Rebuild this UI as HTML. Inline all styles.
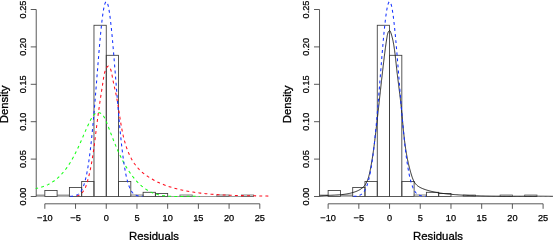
<!DOCTYPE html><html><head><meta charset="utf-8"><title>Residuals density</title><style>html,body{margin:0;padding:0;background:#fff}svg{display:block;font-family:"Liberation Sans",sans-serif}</style></head><body>
<svg width="553" height="240" viewBox="0 0 553 240">
<rect width="553" height="240" fill="#fff"/>
<path d="M36.23 196.5 H44.83 M57.11 196.5 H69.4" stroke="#9a9a9a" stroke-width="2.2" fill="none" transform="translate(0 -0.9)"/><path d="M167.67 196.5 H253.66" stroke="#6e6e6e" stroke-width="0.7" fill="none"/><g fill="none" stroke="#3c3c3c" stroke-width="0.85"><rect x="44.83" y="190.49" width="12.28" height="6.01"/><rect x="69.4" y="187.49" width="12.28" height="9.01"/><rect x="81.68" y="181.48" width="12.28" height="15.02"/><rect x="93.97" y="25.27" width="12.28" height="171.23"/><rect x="106.25" y="55.31" width="12.28" height="141.19"/><rect x="118.53" y="181.48" width="12.28" height="15.02"/><rect x="130.82" y="195" width="12.28" height="1.5" stroke="#6a6a6a"/><rect x="143.1" y="192.3" width="12.28" height="4.2"/><rect x="155.39" y="193.5" width="12.28" height="3"/><rect x="179.95" y="195" width="12.28" height="1.5" stroke="#6a6a6a"/><rect x="216.81" y="195" width="12.28" height="1.5" stroke="#6a6a6a"/><rect x="241.37" y="195" width="12.28" height="1.5" stroke="#6a6a6a"/></g><path d="M36.23 9.5 V196.5 M30.73 196.5 H36.23 M30.73 159.1 H36.23 M30.73 121.7 H36.23 M30.73 84.3 H36.23 M30.73 46.9 H36.23 M30.73 9.5 H36.23 M44.83 203.8 H259.8 M44.83 203.8 V208.8 M75.54 203.8 V208.8 M106.25 203.8 V208.8 M136.96 203.8 V208.8 M167.67 203.8 V208.8 M198.38 203.8 V208.8 M229.09 203.8 V208.8 M259.8 203.8 V208.8" stroke="#3c3c3c" stroke-width="0.85" fill="none"/><g font-size="9.2" fill="#000" stroke="#000" stroke-width="0.25"><text x="44.83" y="221.0" text-anchor="middle">−10</text><text x="75.54" y="221.0" text-anchor="middle">−5</text><text x="106.25" y="221.0" text-anchor="middle">0</text><text x="136.96" y="221.0" text-anchor="middle">5</text><text x="167.67" y="221.0" text-anchor="middle">10</text><text x="198.38" y="221.0" text-anchor="middle">15</text><text x="229.09" y="221.0" text-anchor="middle">20</text><text x="259.8" y="221.0" text-anchor="middle">25</text><text transform="translate(26.03 196.5) rotate(-90)" text-anchor="middle">0.00</text><text transform="translate(26.03 159.1) rotate(-90)" text-anchor="middle">0.05</text><text transform="translate(26.03 121.7) rotate(-90)" text-anchor="middle">0.10</text><text transform="translate(26.03 84.3) rotate(-90)" text-anchor="middle">0.15</text><text transform="translate(26.03 46.9) rotate(-90)" text-anchor="middle">0.20</text><text transform="translate(26.03 9.5) rotate(-90)" text-anchor="middle">0.25</text></g><g font-size="11.35" fill="#000" stroke="#000" stroke-width="0.3"><text x="154.03" y="240.3" text-anchor="middle">Residuals</text><text transform="translate(7.73 104.4) rotate(-90)" text-anchor="middle">Density</text></g>
<path d="M319.53 196.5 H328.13 M340.41 196.5 H352.7" stroke="#9a9a9a" stroke-width="2.2" fill="none" transform="translate(0 -0.9)"/><path d="M450.97 196.5 H536.96" stroke="#6e6e6e" stroke-width="0.7" fill="none"/><g fill="none" stroke="#3c3c3c" stroke-width="0.85"><rect x="328.13" y="190.49" width="12.28" height="6.01"/><rect x="352.7" y="187.49" width="12.28" height="9.01"/><rect x="364.98" y="181.48" width="12.28" height="15.02"/><rect x="377.27" y="25.27" width="12.28" height="171.23"/><rect x="389.55" y="55.31" width="12.28" height="141.19"/><rect x="401.83" y="181.48" width="12.28" height="15.02"/><rect x="414.12" y="195" width="12.28" height="1.5" stroke="#6a6a6a"/><rect x="426.4" y="192.3" width="12.28" height="4.2"/><rect x="438.69" y="193.5" width="12.28" height="3"/><rect x="463.25" y="195" width="12.28" height="1.5" stroke="#6a6a6a"/><rect x="500.11" y="195" width="12.28" height="1.5" stroke="#6a6a6a"/><rect x="524.67" y="195" width="12.28" height="1.5" stroke="#6a6a6a"/></g><path d="M319.53 9.5 V196.5 M314.03 196.5 H319.53 M314.03 159.1 H319.53 M314.03 121.7 H319.53 M314.03 84.3 H319.53 M314.03 46.9 H319.53 M314.03 9.5 H319.53 M328.13 203.8 H543.1 M328.13 203.8 V208.8 M358.84 203.8 V208.8 M389.55 203.8 V208.8 M420.26 203.8 V208.8 M450.97 203.8 V208.8 M481.68 203.8 V208.8 M512.39 203.8 V208.8 M543.1 203.8 V208.8" stroke="#3c3c3c" stroke-width="0.85" fill="none"/><g font-size="9.2" fill="#000" stroke="#000" stroke-width="0.25"><text x="328.13" y="221.0" text-anchor="middle">−10</text><text x="358.84" y="221.0" text-anchor="middle">−5</text><text x="389.55" y="221.0" text-anchor="middle">0</text><text x="420.26" y="221.0" text-anchor="middle">5</text><text x="450.97" y="221.0" text-anchor="middle">10</text><text x="481.68" y="221.0" text-anchor="middle">15</text><text x="512.39" y="221.0" text-anchor="middle">20</text><text x="543.1" y="221.0" text-anchor="middle">25</text><text transform="translate(309.33 196.5) rotate(-90)" text-anchor="middle">0.00</text><text transform="translate(309.33 159.1) rotate(-90)" text-anchor="middle">0.05</text><text transform="translate(309.33 121.7) rotate(-90)" text-anchor="middle">0.10</text><text transform="translate(309.33 84.3) rotate(-90)" text-anchor="middle">0.15</text><text transform="translate(309.33 46.9) rotate(-90)" text-anchor="middle">0.20</text><text transform="translate(309.33 9.5) rotate(-90)" text-anchor="middle">0.25</text></g><g font-size="11.35" fill="#000" stroke="#000" stroke-width="0.3"><text x="438.03" y="240.3" text-anchor="middle">Residuals</text><text transform="translate(291.43 104.4) rotate(-90)" text-anchor="middle">Density</text></g>
<path d="M319.57 196.09 L320.39 195.99 L321.22 195.9 L322.05 195.82 L322.88 195.75 L323.71 195.68 L324.54 195.62 L325.38 195.57 L326.21 195.51 L327.05 195.47 L327.89 195.42 L328.72 195.38 L329.56 195.34 L330.4 195.3 L331.24 195.26 L332.08 195.23 L332.92 195.19 L333.76 195.15 L334.6 195.11 L335.44 195.06 L336.28 195.02 L337.12 194.97 L337.96 194.91 L338.8 194.86 L339.64 194.79 L340.48 194.72 L341.32 194.65 L342.15 194.56 L342.99 194.47 L343.82 194.37 L344.66 194.26 L345.49 194.14 L346.32 194.01 L347.15 193.87 L347.98 193.72 L348.8 193.56 L349.63 193.38 L350.45 193.19 L351.27 192.99 L352.09 192.77 L352.91 192.54 L353.72 192.29 L354.53 192.02 L355.33 191.74 L356.12 191.44 L356.9 191.11 L357.67 190.77 L358.42 190.41 L359.16 190.02 L359.88 189.61 L360.57 189.18 L361.25 188.73 L361.9 188.24 L362.52 187.74 L363.11 187.2 L363.67 186.64 L364.2 186.04 L364.7 185.42 L365.18 184.78 L365.62 184.11 L366.03 183.42 L366.42 182.7 L366.79 181.97 L367.13 181.22 L367.45 180.45 L367.75 179.67 L368.04 178.87 L368.3 178.06 L368.55 177.24 L368.79 176.41 L369.01 175.57 L369.22 174.72 L369.42 173.87 L369.62 173.02 L369.8 172.16 L369.98 171.31 L370.15 170.45 L370.32 169.6 L370.49 168.75 L370.65 167.91 L370.81 167.06 L370.97 166.22 L371.12 165.38 L371.27 164.54 L371.42 163.7 L371.56 162.86 L371.71 162.03 L371.85 161.2 L371.98 160.37 L372.12 159.54 L372.25 158.71 L372.38 157.88 L372.51 157.06 L372.63 156.24 L372.76 155.41 L372.88 154.59 L373 153.77 L373.12 152.95 L373.24 152.13 L373.35 151.31 L373.46 150.49 L373.58 149.67 L373.69 148.85 L373.8 148.03 L373.9 147.22 L374.01 146.4 L374.12 145.58 L374.22 144.76 L374.33 143.94 L374.43 143.12 L374.53 142.3 L374.64 141.48 L374.74 140.66 L374.84 139.84 L374.94 139.02 L375.04 138.2 L375.14 137.37 L375.24 136.55 L375.34 135.72 L375.44 134.9 L375.54 134.07 L375.64 133.25 L375.74 132.42 L375.84 131.59 L375.93 130.76 L376.03 129.93 L376.13 129.1 L376.22 128.27 L376.32 127.44 L376.42 126.61 L376.51 125.78 L376.61 124.95 L376.71 124.11 L376.8 123.28 L376.9 122.45 L376.99 121.61 L377.09 120.78 L377.18 119.94 L377.28 119.11 L377.37 118.27 L377.46 117.44 L377.56 116.6 L377.65 115.76 L377.75 114.93 L377.84 114.09 L377.93 113.25 L378.03 112.41 L378.12 111.58 L378.21 110.74 L378.3 109.9 L378.4 109.06 L378.49 108.22 L378.58 107.38 L378.67 106.55 L378.77 105.71 L378.86 104.87 L378.95 104.03 L379.04 103.19 L379.14 102.35 L379.23 101.51 L379.32 100.67 L379.41 99.83 L379.5 98.99 L379.6 98.15 L379.69 97.31 L379.78 96.48 L379.87 95.64 L379.96 94.8 L380.05 93.96 L380.15 93.12 L380.24 92.28 L380.33 91.44 L380.42 90.61 L380.51 89.77 L380.61 88.93 L380.7 88.09 L380.79 87.26 L380.88 86.42 L380.97 85.58 L381.07 84.75 L381.16 83.91 L381.25 83.08 L381.34 82.24 L381.44 81.41 L381.53 80.57 L381.62 79.74 L381.72 78.9 L381.81 78.07 L381.9 77.24 L382 76.41 L382.09 75.58 L382.18 74.74 L382.28 73.91 L382.37 73.08 L382.47 72.25 L382.56 71.42 L382.66 70.6 L382.75 69.77 L382.85 68.94 L382.94 68.12 L383.04 67.29 L383.13 66.46 L383.23 65.64 L383.33 64.82 L383.42 63.99 L383.52 63.17 L383.62 62.35 L383.71 61.53 L383.81 60.71 L383.91 59.89 L384.01 59.07 L384.11 58.25 L384.21 57.44 L384.3 56.62 L384.4 55.81 L384.5 54.99 L384.6 54.18 L384.71 53.36 L384.81 52.55 L384.91 51.73 L385.01 50.92 L385.12 50.1 L385.23 49.28 L385.34 48.45 L385.45 47.63 L385.56 46.8 L385.67 45.97 L385.79 45.13 L385.91 44.29 L386.03 43.44 L386.16 42.59 L386.29 41.73 L386.42 40.86 L386.55 39.99 L386.69 39.11 L386.83 38.23 L386.98 37.33 L387.13 36.43 L387.28 35.53 L387.46 34.64 L387.66 33.78 L387.9 32.97 L388.19 32.22 L388.54 31.57 L388.97 31.02 L389.46 30.63 L389.95 30.71 L390.34 31.37 L390.66 32.26 L390.96 33.15 L391.25 34.02 L391.51 34.88 L391.76 35.73 L391.99 36.56 L392.21 37.39 L392.42 38.21 L392.61 39.03 L392.79 39.84 L392.96 40.64 L393.13 41.44 L393.28 42.24 L393.43 43.04 L393.57 43.84 L393.71 44.65 L393.84 45.45 L393.97 46.26 L394.1 47.07 L394.22 47.88 L394.34 48.7 L394.46 49.52 L394.57 50.34 L394.68 51.16 L394.79 51.98 L394.89 52.81 L395 53.63 L395.1 54.46 L395.2 55.29 L395.29 56.12 L395.39 56.95 L395.48 57.78 L395.58 58.62 L395.67 59.45 L395.76 60.29 L395.85 61.13 L395.94 61.96 L396.03 62.8 L396.12 63.64 L396.21 64.48 L396.3 65.31 L396.39 66.15 L396.48 66.99 L396.57 67.83 L396.66 68.67 L396.76 69.51 L396.85 70.34 L396.95 71.18 L397.04 72.02 L397.14 72.86 L397.24 73.69 L397.34 74.53 L397.44 75.37 L397.54 76.2 L397.64 77.04 L397.74 77.87 L397.85 78.71 L397.95 79.54 L398.05 80.38 L398.16 81.21 L398.26 82.05 L398.37 82.88 L398.47 83.71 L398.58 84.55 L398.68 85.38 L398.79 86.22 L398.89 87.05 L399 87.88 L399.1 88.72 L399.21 89.55 L399.31 90.38 L399.42 91.21 L399.52 92.05 L399.62 92.88 L399.72 93.71 L399.83 94.55 L399.93 95.38 L400.03 96.21 L400.13 97.04 L400.23 97.88 L400.32 98.71 L400.42 99.54 L400.52 100.37 L400.61 101.21 L400.7 102.04 L400.8 102.87 L400.89 103.7 L400.98 104.54 L401.07 105.37 L401.15 106.2 L401.24 107.04 L401.32 107.87 L401.41 108.7 L401.49 109.54 L401.57 110.37 L401.65 111.2 L401.73 112.04 L401.81 112.87 L401.89 113.7 L401.96 114.54 L402.04 115.37 L402.12 116.2 L402.19 117.04 L402.27 117.87 L402.35 118.7 L402.42 119.53 L402.5 120.37 L402.57 121.2 L402.65 122.03 L402.72 122.87 L402.8 123.7 L402.88 124.53 L402.95 125.37 L403.03 126.2 L403.11 127.03 L403.19 127.86 L403.27 128.7 L403.35 129.53 L403.43 130.36 L403.51 131.19 L403.6 132.03 L403.68 132.86 L403.77 133.69 L403.86 134.52 L403.94 135.35 L404.03 136.18 L404.13 137.02 L404.22 137.85 L404.32 138.68 L404.41 139.51 L404.51 140.34 L404.61 141.17 L404.72 142 L404.82 142.83 L404.93 143.66 L405.04 144.49 L405.15 145.32 L405.27 146.15 L405.38 146.98 L405.5 147.81 L405.63 148.64 L405.75 149.46 L405.88 150.29 L406.01 151.12 L406.15 151.95 L406.28 152.78 L406.42 153.6 L406.57 154.43 L406.72 155.26 L406.87 156.08 L407.02 156.91 L407.18 157.73 L407.34 158.56 L407.51 159.38 L407.67 160.21 L407.85 161.03 L408.03 161.86 L408.21 162.68 L408.39 163.5 L408.58 164.33 L408.78 165.15 L408.97 165.97 L409.18 166.79 L409.38 167.62 L409.6 168.44 L409.81 169.26 L410.03 170.08 L410.26 170.9 L410.49 171.72 L410.73 172.54 L410.97 173.36 L411.22 174.18 L411.47 174.99 L411.73 175.81 L411.99 176.63 L412.27 177.43 L412.56 178.23 L412.87 179.02 L413.19 179.79 L413.54 180.55 L413.91 181.28 L414.31 182 L414.74 182.69 L415.2 183.35 L415.69 183.98 L416.22 184.57 L416.79 185.14 L417.4 185.66 L418.04 186.15 L418.72 186.62 L419.42 187.05 L420.15 187.45 L420.9 187.84 L421.67 188.19 L422.45 188.53 L423.24 188.85 L424.05 189.16 L424.86 189.45 L425.67 189.72 L426.48 189.99 L427.29 190.24 L428.11 190.49 L428.92 190.72 L429.74 190.95 L430.56 191.16 L431.38 191.37 L432.2 191.57 L433.02 191.75 L433.84 191.93 L434.67 192.1 L435.49 192.27 L436.31 192.42 L437.14 192.57 L437.97 192.72 L438.79 192.85 L439.62 192.98 L440.45 193.1 L441.28 193.22 L442.11 193.33 L442.94 193.44 L443.77 193.54 L444.6 193.64 L445.43 193.74 L446.26 193.83 L447.1 193.91 L447.93 194 L448.76 194.08 L449.59 194.16 L450.43 194.23 L451.26 194.31 L452.09 194.38 L452.93 194.45 L453.76 194.52 L454.6 194.59 L455.43 194.65 L456.27 194.71 L457.1 194.78 L457.94 194.84 L458.77 194.9 L459.61 194.95 L460.44 195.01 L461.28 195.06 L462.11 195.11 L462.95 195.16 L463.78 195.21 L464.62 195.26 L465.46 195.31 L466.29 195.35 L467.13 195.4 L467.97 195.44 L468.8 195.48 L469.64 195.52 L470.48 195.56 L471.31 195.59 L472.15 195.63 L472.99 195.66 L473.82 195.7 L474.66 195.73 L475.5 195.76 L476.34 195.79 L477.18 195.81 L478.01 195.84 L478.85 195.87 L479.69 195.89 L480.53 195.92 L481.37 195.94 L482.2 195.96 L483.04 195.98 L483.88 196 L484.72 196.02 L485.56 196.04 L486.4 196.05 L487.24 196.07 L488.08 196.08 L488.91 196.1 L489.75 196.11 L490.59 196.12 L491.43 196.14 L492.27 196.15 L493.11 196.16 L493.95 196.17 L494.79 196.18 L495.63 196.18 L496.47 196.19 L497.31 196.2 L498.15 196.2 L498.99 196.21 L499.83 196.21 L500.66 196.22 L501.5 196.22 L502.34 196.23 L503.18 196.23 L504.02 196.23 L504.86 196.23 L505.7 196.24 L506.54 196.24 L507.38 196.24 L508.22 196.24 L509.06 196.24 L509.9 196.24 L510.74 196.24 L511.58 196.24 L512.42 196.24 L513.26 196.24 L514.1 196.23 L514.94 196.23 L515.78 196.23 L516.62 196.23 L517.46 196.23 L518.3 196.23 L519.14 196.22 L519.98 196.22 L520.81 196.22 L521.65 196.22 L522.49 196.21 L523.33 196.21 L524.17 196.21 L525.01 196.21 L525.85 196.21 L526.69 196.21 L527.53 196.2 L528.37 196.2 L529.21 196.2 L530.05 196.2 L530.88 196.2 L531.72 196.2 L532.56 196.2 L533.4 196.2 L534.24 196.2 L535.08 196.2 L535.91 196.2 L536.75 196.2 L537.59 196.21 L538.43 196.21 L539.27 196.21 L540.11 196.22 L540.94 196.22 L541.78 196.22 L542.62 196.23 L543.46 196.23 L544.29 196.24 L545.13 196.25 L545.97 196.26 L546.8 196.26 L547.64 196.27 L548.48 196.28 L549.31 196.29 L550.15 196.3 L550.99 196.31 L551.82 196.33 L552.66 196.34 L553.5 196.36" stroke="#141414" stroke-width="0.92" fill="none"/>
<g fill="none" stroke-width="1.05" stroke-dasharray="2.9 3.2">
<path d="M35.68 188.46 L36.58 188.32 L37.46 188.16 L38.34 187.98 L39.2 187.78 L40.05 187.57 L40.89 187.35 L41.72 187.1 L42.54 186.84 L43.35 186.57 L44.15 186.28 L44.94 185.97 L45.72 185.65 L46.49 185.31 L47.24 184.96 L47.99 184.6 L48.73 184.22 L49.46 183.83 L50.18 183.42 L50.89 183.01 L51.59 182.57 L52.28 182.13 L52.96 181.67 L53.63 181.21 L54.3 180.73 L54.95 180.23 L55.6 179.73 L56.24 179.21 L56.87 178.69 L57.49 178.15 L58.1 177.61 L58.7 177.05 L59.3 176.48 L59.89 175.91 L60.47 175.32 L61.04 174.72 L61.6 174.12 L62.16 173.51 L62.71 172.89 L63.25 172.26 L63.79 171.62 L64.31 170.97 L64.84 170.32 L65.35 169.66 L65.86 168.99 L66.36 168.32 L66.85 167.64 L67.34 166.95 L67.82 166.26 L68.29 165.56 L68.76 164.86 L69.22 164.15 L69.68 163.44 L70.13 162.72 L70.57 162 L71.01 161.27 L71.44 160.54 L71.87 159.81 L72.29 159.07 L72.71 158.33 L73.12 157.59 L73.53 156.84 L73.93 156.09 L74.32 155.34 L74.72 154.59 L75.1 153.83 L75.49 153.08 L75.87 152.32 L76.24 151.56 L76.61 150.8 L76.98 150.04 L77.34 149.28 L77.69 148.52 L78.05 147.76 L78.4 147 L78.75 146.24 L79.09 145.49 L79.43 144.73 L79.77 143.97 L80.1 143.22 L80.44 142.46 L80.77 141.71 L81.1 140.95 L81.43 140.2 L81.75 139.44 L82.08 138.69 L82.41 137.93 L82.73 137.18 L83.06 136.42 L83.39 135.66 L83.71 134.91 L84.04 134.15 L84.37 133.39 L84.7 132.63 L85.03 131.87 L85.37 131.11 L85.71 130.35 L86.04 129.59 L86.39 128.82 L86.73 128.06 L87.08 127.29 L87.44 126.52 L87.79 125.75 L88.15 124.98 L88.52 124.21 L88.89 123.43 L89.27 122.66 L89.65 121.88 L90.04 121.1 L90.43 120.31 L90.83 119.53 L91.24 118.74 L91.66 117.96 L92.09 117.2 L92.55 116.46 L93.04 115.75 L93.56 115.09 L94.13 114.49 L94.74 113.95 L95.4 113.49 L96.1 113.11 L96.83 112.83 L97.58 112.65 L98.33 112.59 L99.07 112.65 L99.78 112.84 L100.47 113.15 L101.14 113.58 L101.76 114.1 L102.36 114.69 L102.92 115.35 L103.45 116.05 L103.93 116.78 L104.38 117.52 L104.79 118.27 L105.18 119.04 L105.54 119.81 L105.88 120.59 L106.2 121.37 L106.52 122.16 L106.83 122.95 L107.14 123.74 L107.44 124.53 L107.75 125.32 L108.05 126.11 L108.36 126.89 L108.66 127.68 L108.96 128.47 L109.27 129.26 L109.57 130.05 L109.87 130.83 L110.17 131.62 L110.47 132.4 L110.77 133.19 L111.07 133.97 L111.38 134.76 L111.68 135.54 L111.98 136.32 L112.28 137.11 L112.59 137.89 L112.89 138.67 L113.2 139.45 L113.51 140.23 L113.82 141 L114.13 141.78 L114.44 142.55 L114.75 143.33 L115.07 144.1 L115.39 144.87 L115.71 145.64 L116.03 146.41 L116.35 147.18 L116.68 147.95 L117.01 148.71 L117.34 149.48 L117.67 150.24 L118.01 151 L118.35 151.76 L118.69 152.52 L119.04 153.27 L119.39 154.03 L119.75 154.78 L120.1 155.53 L120.46 156.28 L120.83 157.03 L121.2 157.77 L121.57 158.52 L121.95 159.26 L122.33 160 L122.72 160.74 L123.11 161.47 L123.5 162.2 L123.9 162.94 L124.31 163.66 L124.72 164.39 L125.14 165.11 L125.56 165.84 L125.99 166.56 L126.42 167.27 L126.86 167.99 L127.3 168.7 L127.75 169.41 L128.21 170.11 L128.67 170.82 L129.14 171.52 L129.61 172.22 L130.09 172.91 L130.58 173.61 L131.08 174.3 L131.58 174.98 L132.09 175.66 L132.6 176.34 L133.13 177.01 L133.65 177.67 L134.19 178.33 L134.73 178.98 L135.28 179.63 L135.84 180.27 L136.41 180.9 L136.98 181.52 L137.56 182.14 L138.14 182.74 L138.74 183.34 L139.34 183.93 L139.95 184.5 L140.57 185.07 L141.19 185.62 L141.82 186.17 L142.46 186.7 L143.11 187.22 L143.77 187.73 L144.43 188.22 L145.1 188.71 L145.78 189.17 L146.47 189.63 L147.16 190.07 L147.86 190.49 L148.58 190.9 L149.3 191.3 L150.02 191.67 L150.76 192.04 L151.51 192.38 L152.26 192.71 L153.02 193.02 L153.79 193.31 L154.57 193.59 L155.35 193.85 L156.15 194.09 L156.94 194.32 L157.75 194.54 L158.56 194.74 L159.38 194.92 L160.2 195.1 L161.03 195.26 L161.86 195.41 L162.7 195.54 L163.55 195.67 L164.39 195.78 L165.24 195.88 L166.1 195.98 L166.95 196.06 L167.81 196.13 L168.68 196.2 L169.54 196.26 L170.41 196.3 L171.28 196.35 L172.15 196.38 L173.02 196.4 L173.89 196.4 L174.76 196.4 L175.63 196.4 L176.5 196.4 L177.38 196.4 L178.25 196.4 L179.12 196.4 L179.98 196.4 L180.85 196.4 L181.71 196.4 L182.58 196.4 L183.44 196.39 L184.29 196.37 L185.15 196.35 L185.99 196.34 L186.84 196.32 L187.68 196.3 L188.52 196.29 L189.35 196.28 L190.18 196.27 L191 196.26 L191.82 196.26 L192.63 196.26 L193.43 196.26 L194.23 196.27 L195.02 196.28 L195.8 196.3 L196.58 196.33 L197.34 196.36 L198.1 196.4 L198.85 196.4 L199.6 196.4" stroke="#14ff14" stroke-dashoffset="0.45"/>
<path d="M75.59 196.4 L76.94 196.07 L78.19 195.6 L79.33 195.01 L80.37 194.33 L81.32 193.55 L82.18 192.69 L82.96 191.76 L83.66 190.76 L84.31 189.69 L84.89 188.58 L85.42 187.42 L85.9 186.22 L86.34 184.99 L86.75 183.74 L87.13 182.48 L87.5 181.21 L87.85 179.95 L88.19 178.68 L88.51 177.42 L88.83 176.16 L89.13 174.9 L89.43 173.65 L89.71 172.39 L89.99 171.14 L90.25 169.88 L90.51 168.63 L90.76 167.38 L91 166.13 L91.24 164.88 L91.47 163.63 L91.69 162.38 L91.9 161.12 L92.11 159.87 L92.32 158.62 L92.52 157.36 L92.72 156.1 L92.91 154.85 L93.1 153.59 L93.29 152.32 L93.47 151.06 L93.65 149.8 L93.83 148.53 L94 147.27 L94.17 146 L94.34 144.73 L94.51 143.46 L94.67 142.19 L94.84 140.92 L95 139.65 L95.16 138.38 L95.32 137.11 L95.48 135.83 L95.64 134.56 L95.79 133.28 L95.95 132.01 L96.1 130.74 L96.26 129.46 L96.42 128.19 L96.57 126.91 L96.73 125.64 L96.89 124.36 L97.05 123.09 L97.21 121.81 L97.37 120.54 L97.53 119.26 L97.7 117.99 L97.86 116.72 L98.03 115.44 L98.2 114.17 L98.38 112.9 L98.55 111.63 L98.73 110.36 L98.91 109.09 L99.09 107.82 L99.27 106.55 L99.45 105.29 L99.64 104.02 L99.82 102.75 L100.01 101.49 L100.2 100.22 L100.39 98.96 L100.58 97.69 L100.77 96.43 L100.96 95.17 L101.15 93.9 L101.35 92.64 L101.54 91.38 L101.73 90.12 L101.92 88.86 L102.12 87.6 L102.31 86.34 L102.5 85.08 L102.7 83.82 L102.89 82.56 L103.08 81.3 L103.27 80.05 L103.46 78.79 L103.65 77.53 L103.85 76.28 L104.09 75.01 L104.36 73.75 L104.69 72.47 L105.09 71.19 L105.58 69.89 L106.16 68.58 L106.86 67.3 L107.62 66.36 L108.39 66.18 L109.12 66.71 L109.78 67.61 L110.33 68.65 L110.78 69.77 L111.16 70.97 L111.47 72.22 L111.74 73.51 L111.98 74.83 L112.21 76.15 L112.45 77.47 L112.69 78.78 L112.94 80.07 L113.2 81.35 L113.47 82.62 L113.74 83.88 L114.01 85.14 L114.29 86.39 L114.56 87.63 L114.84 88.87 L115.12 90.11 L115.39 91.34 L115.66 92.58 L115.93 93.81 L116.19 95.05 L116.44 96.29 L116.68 97.54 L116.91 98.78 L117.14 100.04 L117.36 101.29 L117.58 102.55 L117.79 103.81 L118 105.07 L118.2 106.33 L118.4 107.6 L118.59 108.87 L118.79 110.14 L118.98 111.41 L119.17 112.68 L119.36 113.95 L119.55 115.22 L119.75 116.5 L119.94 117.77 L120.14 119.05 L120.34 120.32 L120.54 121.59 L120.74 122.86 L120.95 124.13 L121.17 125.4 L121.39 126.67 L121.62 127.94 L121.85 129.21 L122.1 130.47 L122.35 131.73 L122.61 132.99 L122.88 134.24 L123.15 135.5 L123.44 136.75 L123.75 137.99 L124.06 139.23 L124.38 140.47 L124.72 141.71 L125.08 142.94 L125.44 144.16 L125.82 145.38 L126.22 146.6 L126.63 147.81 L127.06 149.01 L127.51 150.21 L127.98 151.41 L128.46 152.59 L128.97 153.76 L129.49 154.93 L130.04 156.08 L130.6 157.22 L131.19 158.35 L131.81 159.46 L132.44 160.56 L133.1 161.64 L133.79 162.71 L134.5 163.76 L135.24 164.79 L136 165.8 L136.8 166.79 L137.62 167.75 L138.47 168.7 L139.35 169.62 L140.26 170.52 L141.2 171.39 L142.16 172.24 L143.15 173.07 L144.16 173.88 L145.19 174.66 L146.24 175.43 L147.31 176.17 L148.4 176.89 L149.49 177.59 L150.6 178.27 L151.72 178.93 L152.85 179.57 L153.99 180.19 L155.14 180.8 L156.29 181.38 L157.44 181.95 L158.6 182.49 L159.77 183.03 L160.95 183.54 L162.13 184.04 L163.31 184.52 L164.5 184.98 L165.7 185.43 L166.9 185.86 L168.1 186.28 L169.31 186.69 L170.52 187.08 L171.74 187.45 L172.96 187.82 L174.19 188.17 L175.42 188.5 L176.65 188.83 L177.89 189.14 L179.13 189.44 L180.37 189.73 L181.62 190.01 L182.87 190.28 L184.12 190.54 L185.37 190.79 L186.63 191.02 L187.88 191.25 L189.14 191.48 L190.41 191.69 L191.67 191.89 L192.93 192.09 L194.2 192.28 L195.47 192.46 L196.74 192.64 L198.01 192.8 L199.28 192.97 L200.55 193.12 L201.82 193.27 L203.09 193.42 L204.37 193.55 L205.64 193.69 L206.92 193.81 L208.2 193.93 L209.47 194.05 L210.75 194.16 L212.03 194.26 L213.31 194.36 L214.59 194.46 L215.87 194.55 L217.15 194.63 L218.43 194.72 L219.72 194.79 L221 194.87 L222.28 194.94 L223.56 195 L224.85 195.06 L226.13 195.12 L227.42 195.18 L228.7 195.23 L229.98 195.28 L231.27 195.33 L232.55 195.37 L233.84 195.41 L235.12 195.45 L236.4 195.49 L237.69 195.52 L238.97 195.56 L240.26 195.59 L241.54 195.62 L242.82 195.64 L244.11 195.67 L245.39 195.7 L246.67 195.72 L247.95 195.74 L249.24 195.77 L250.52 195.79 L251.8 195.81 L253.08 195.83 L254.36 195.85 L255.64 195.87 L256.92 195.89 L258.19 195.91 L259.47 195.93 L260.75 195.96 L262.02 195.98 L263.3 196 L264.57 196.03 L265.84 196.05 L267.11 196.08 L268.38 196.11" stroke="#ff0c1c" stroke-dashoffset="-1.3"/>
<path d="M70.32 196.37 L70.68 196.35 L71.04 196.32 L71.41 196.29 L71.77 196.26 L72.13 196.23 L72.5 196.19 L72.86 196.14 L73.22 196.09 L73.58 196.03 L73.95 195.96 L74.31 195.89 L74.67 195.8 L75.03 195.71 L75.4 195.6 L75.76 195.48 L76.12 195.34 L76.48 195.19 L76.85 195.02 L77.21 194.84 L77.57 194.63 L77.94 194.39 L78.3 194.14 L78.66 193.85 L79.02 193.54 L79.39 193.19 L79.75 192.81 L80.11 192.39 L80.47 191.93 L80.84 191.42 L81.2 190.87 L81.56 190.27 L81.92 189.61 L82.29 188.89 L82.65 188.11 L83.01 187.27 L83.37 186.36 L83.74 185.37 L84.1 184.3 L84.46 183.15 L84.83 181.92 L85.19 180.59 L85.55 179.17 L85.91 177.65 L86.28 176.03 L86.64 174.3 L87 172.46 L87.36 170.51 L87.73 168.44 L88.09 166.25 L88.45 163.94 L88.81 161.5 L89.18 158.94 L89.54 156.25 L89.9 153.43 L90.27 150.48 L90.63 147.41 L90.99 144.2 L91.35 140.87 L91.72 137.41 L92.08 133.84 L92.44 130.14 L92.8 126.33 L93.17 122.41 L93.53 118.39 L93.89 114.28 L94.25 110.07 L94.62 105.79 L94.98 101.43 L95.34 97.01 L95.71 92.54 L96.07 88.04 L96.43 83.5 L96.79 78.95 L97.16 74.4 L97.52 69.86 L97.88 65.35 L98.24 60.87 L98.61 56.46 L98.97 52.11 L99.33 47.85 L99.69 43.69 L100.06 39.65 L100.42 35.74 L100.78 31.97 L101.15 28.37 L101.51 24.95 L101.87 21.71 L102.23 18.68 L102.6 15.87 L102.96 13.28 L103.32 10.93 L103.68 8.83 L104.05 6.99 L104.41 5.41 L104.77 4.11 L105.13 3.08 L105.5 2.34 L105.86 1.88 L106.22 1.72 L106.58 1.84 L106.95 2.25 L107.31 2.95 L107.67 3.93 L108.04 5.19 L108.4 6.73 L108.76 8.53 L109.12 10.59 L109.49 12.9 L109.85 15.45 L110.21 18.24 L110.57 21.23 L110.94 24.44 L111.3 27.84 L111.66 31.41 L112.02 35.15 L112.39 39.04 L112.75 43.06 L113.11 47.2 L113.48 51.45 L113.84 55.78 L114.2 60.19 L114.56 64.66 L114.93 69.17 L115.29 73.7 L115.65 78.25 L116.01 82.81 L116.38 87.34 L116.74 91.86 L117.1 96.33 L117.46 100.76 L117.83 105.12 L118.19 109.42 L118.55 113.64 L118.92 117.77 L119.28 121.8 L119.64 125.74 L120 129.56 L120.37 133.28 L120.73 136.87 L121.09 140.35 L121.45 143.7 L121.82 146.92 L122.18 150.02 L122.54 152.99 L122.9 155.83 L123.27 158.54 L123.63 161.12 L123.99 163.58 L124.36 165.91 L124.72 168.11 L125.08 170.2 L125.44 172.17 L125.81 174.03 L126.17 175.77 L126.53 177.41 L126.89 178.95 L127.26 180.38 L127.62 181.72 L127.98 182.97 L128.34 184.13 L128.71 185.21 L129.07 186.21 L129.43 187.13 L129.79 187.99 L130.16 188.78 L130.52 189.5 L130.88 190.17 L131.25 190.78 L131.61 191.34 L131.97 191.85 L132.33 192.32 L132.7 192.75 L133.06 193.14 L133.42 193.49 L133.78 193.81 L134.15 194.1 L134.51 194.36 L134.87 194.59 L135.23 194.81 L135.6 195 L135.96 195.17 L136.32 195.32 L136.69 195.46 L137.05 195.58 L137.41 195.69 L137.77 195.79 L138.14 195.87 L138.5 195.95 L138.86 196.02 L139.22 196.08 L139.59 196.13 L139.95 196.18 L140.31 196.22 L140.67 196.26 L141.04 196.29 L141.4 196.32 L141.76 196.34 L142.13 196.36 L142.49 196.38" stroke="#1230ff" stroke-dashoffset="0.15"/>
<path d="M353.62 196.37 L353.98 196.35 L354.34 196.32 L354.71 196.29 L355.07 196.26 L355.43 196.23 L355.8 196.19 L356.16 196.14 L356.52 196.09 L356.88 196.03 L357.25 195.96 L357.61 195.89 L357.97 195.8 L358.33 195.71 L358.7 195.6 L359.06 195.48 L359.42 195.34 L359.78 195.19 L360.15 195.02 L360.51 194.84 L360.87 194.63 L361.24 194.39 L361.6 194.14 L361.96 193.85 L362.32 193.54 L362.69 193.19 L363.05 192.81 L363.41 192.39 L363.77 191.93 L364.14 191.42 L364.5 190.87 L364.86 190.27 L365.22 189.61 L365.59 188.89 L365.95 188.11 L366.31 187.27 L366.67 186.36 L367.04 185.37 L367.4 184.3 L367.76 183.15 L368.13 181.92 L368.49 180.59 L368.85 179.17 L369.21 177.65 L369.58 176.03 L369.94 174.3 L370.3 172.46 L370.66 170.51 L371.03 168.44 L371.39 166.25 L371.75 163.94 L372.11 161.5 L372.48 158.94 L372.84 156.25 L373.2 153.43 L373.57 150.48 L373.93 147.41 L374.29 144.2 L374.65 140.87 L375.02 137.41 L375.38 133.84 L375.74 130.14 L376.1 126.33 L376.47 122.41 L376.83 118.39 L377.19 114.28 L377.55 110.07 L377.92 105.79 L378.28 101.43 L378.64 97.01 L379.01 92.54 L379.37 88.04 L379.73 83.5 L380.09 78.95 L380.46 74.4 L380.82 69.86 L381.18 65.35 L381.54 60.87 L381.91 56.46 L382.27 52.11 L382.63 47.85 L382.99 43.69 L383.36 39.65 L383.72 35.74 L384.08 31.97 L384.45 28.37 L384.81 24.95 L385.17 21.71 L385.53 18.68 L385.9 15.87 L386.26 13.28 L386.62 10.93 L386.98 8.83 L387.35 6.99 L387.71 5.41 L388.07 4.11 L388.43 3.08 L388.8 2.34 L389.16 1.88 L389.52 1.72 L389.88 1.84 L390.25 2.25 L390.61 2.95 L390.97 3.93 L391.34 5.19 L391.7 6.73 L392.06 8.53 L392.42 10.59 L392.79 12.9 L393.15 15.45 L393.51 18.24 L393.87 21.23 L394.24 24.44 L394.6 27.84 L394.96 31.41 L395.32 35.15 L395.69 39.04 L396.05 43.06 L396.41 47.2 L396.78 51.45 L397.14 55.78 L397.5 60.19 L397.86 64.66 L398.23 69.17 L398.59 73.7 L398.95 78.25 L399.31 82.81 L399.68 87.34 L400.04 91.86 L400.4 96.33 L400.76 100.76 L401.13 105.12 L401.49 109.42 L401.85 113.64 L402.22 117.77 L402.58 121.8 L402.94 125.74 L403.3 129.56 L403.67 133.28 L404.03 136.87 L404.39 140.35 L404.75 143.7 L405.12 146.92 L405.48 150.02 L405.84 152.99 L406.2 155.83 L406.57 158.54 L406.93 161.12 L407.29 163.58 L407.66 165.91 L408.02 168.11 L408.38 170.2 L408.74 172.17 L409.11 174.03 L409.47 175.77 L409.83 177.41 L410.19 178.95 L410.56 180.38 L410.92 181.72 L411.28 182.97 L411.64 184.13 L412.01 185.21 L412.37 186.21 L412.73 187.13 L413.09 187.99 L413.46 188.78 L413.82 189.5 L414.18 190.17 L414.55 190.78 L414.91 191.34 L415.27 191.85 L415.63 192.32 L416 192.75 L416.36 193.14 L416.72 193.49 L417.08 193.81 L417.45 194.1 L417.81 194.36 L418.17 194.59 L418.53 194.81 L418.9 195 L419.26 195.17 L419.62 195.32 L419.99 195.46 L420.35 195.58 L420.71 195.69 L421.07 195.79 L421.44 195.87 L421.8 195.95 L422.16 196.02 L422.52 196.08 L422.89 196.13 L423.25 196.18 L423.61 196.22 L423.97 196.26 L424.34 196.29 L424.7 196.32 L425.06 196.34 L425.43 196.36 L425.79 196.38" stroke="#1230ff" stroke-dashoffset="0.15"/>
</g>
</svg></body></html>
